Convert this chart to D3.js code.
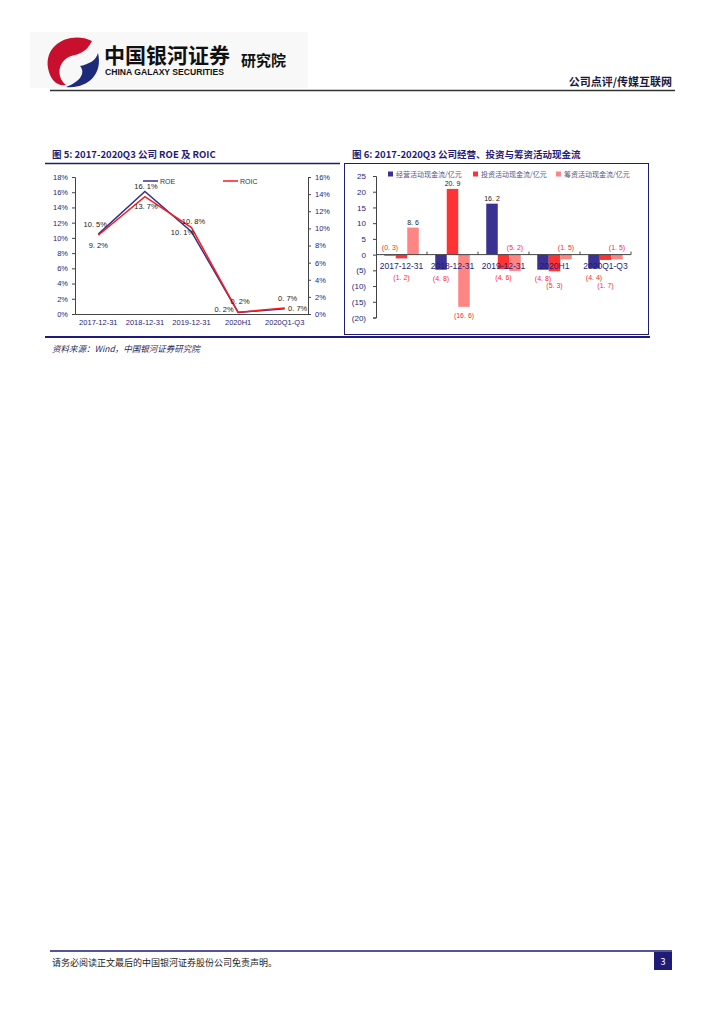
<!DOCTYPE html>
<html><head><meta charset="utf-8">
<script src="https://cdn.jsdelivr.net/npm/d3@7"></script>
<style>body{margin:0;background:#fff}svg{display:block}</style>
</head><body>
<script>
// ---------- data ----------
const roeCats = ["2017-12-31","2018-12-31","2019-12-31","2020H1","2020Q1-Q3"];
const roeVals = [10.5,16.1,10.8,0.2,0.7];
const roicVals = [9.2,13.7,10.1,0.2,0.7];
const roeLeftTicks = [0,2,4,6,8,10,12,14,16,18];
const roeRightTicks = [0,2,4,6,8,10,12,14,16];

const cfCats = ["2017-12-31","2018-12-31","2019-12-31","2020H1","2020Q1-Q3"];
const cfSeries = ["经营活动现金流/亿元","投资活动现金流/亿元","筹资活动现金流/亿元"];
const cfOperating = [-0.3,-4.8,16.2,-4.8,-4.4];
const cfInvesting = [-1.2,20.9,-4.6,-5.3,-1.7];
const cfFinancing = [8.6,-16.6,-5.2,-1.5,-1.5];
const cfTicks = [25,20,15,10,5,0,-5,-10,-15,-20];
// label side per series per category: "out" = beyond bar end, "top" = above zero line, "low" = staggered lower
const cfLabelSide = [
  ["top","out","out","out","out"],
  ["out","out","out","low","low"],
  ["out","out","top","top","top"]
];

// ---------- page ----------
const navy = "#1f1c78";
const svg = d3.select("body").append("svg").attr("width",724).attr("height",1024)
  .style("font-family","'Noto Sans CJK SC','Noto Sans',sans-serif");

// header
svg.append("rect").attr("x",30).attr("y",32).attr("width",278).attr("height",56).attr("fill","#f8f8f8");
svg.append("path").attr("d","M92 41 C72 31 44 43 48 68 C50 80 58 87 66 85 C55 76 58 58 75 55 C83 53 88 49 92 41 Z").attr("fill","#c8102e");
svg.append("path").attr("d","M98 53 C103 74 88 89 66 87 C80 82 86 73 80 66 C90 64 96 60 98 53 Z").attr("fill","#1d2a7a");
svg.append("text").attr("x",104).attr("y",63).attr("font-size",21).attr("font-weight","bold").attr("fill","#111").text("中国银河证券");
svg.append("text").attr("x",105).attr("y",75).attr("font-size",8.6).attr("font-weight","bold").attr("fill","#111")
  .style("font-family","'Liberation Sans',Arial,sans-serif").text("CHINA GALAXY SECURITIES");
svg.append("text").attr("x",241).attr("y",66).attr("font-size",15).attr("font-weight","bold").attr("fill","#111").text("研究院");
svg.append("text").attr("x",672).attr("y",86).attr("text-anchor","end").attr("font-size",11).attr("font-weight","bold").attr("fill","#1a1a40").text("公司点评/传媒互联网");
svg.append("line").attr("x1",50).attr("x2",675).attr("y1",90.5).attr("y2",90.5).attr("stroke","#333").attr("stroke-width",1.3);

// titles
svg.append("text").attr("x",52).attr("y",158).attr("font-size",9.5).attr("font-weight","bold").attr("fill",navy).text("图 5: 2017-2020Q3 公司 ROE 及 ROIC");
svg.append("text").attr("x",352).attr("y",158).attr("font-size",9.5).attr("font-weight","bold").attr("fill",navy).text("图 6: 2017-2020Q3 公司经营、投资与筹资活动现金流");

// frames
svg.append("line").attr("x1",45).attr("x2",340).attr("y1",163.5).attr("y2",163.5).attr("stroke",navy).attr("stroke-width",1.6);
svg.append("line").attr("x1",45).attr("x2",340).attr("y1",337).attr("y2",337).attr("stroke",navy).attr("stroke-width",2.2);
svg.append("rect").attr("x",344.5).attr("y",163.5).attr("width",304).attr("height",171).attr("fill","none").attr("stroke",navy).attr("stroke-width",1);
svg.append("line").attr("x1",340).attr("x2",650).attr("y1",337).attr("y2",337).attr("stroke",navy).attr("stroke-width",2.2);

// source & footer
svg.append("text").attr("x",52).attr("y",352).attr("font-size",8.5).attr("font-style","italic").attr("fill","#2a2a5a").text("资料来源：Wind，中国银河证券研究院");
svg.append("line").attr("x1",50).attr("x2",672).attr("y1",951).attr("y2",951).attr("stroke",navy).attr("stroke-width",1.5);
svg.append("text").attr("x",52).attr("y",966).attr("font-size",9).attr("fill","#222").text("请务必阅读正文最后的中国银河证券股份公司免责声明。");
svg.append("rect").attr("x",654).attr("y",952).attr("width",18).attr("height",18).attr("fill",navy);
svg.append("text").attr("x",663).attr("y",965).attr("text-anchor","middle").attr("font-size",9).attr("fill","#fff").text("3");

// ---------- chart 1: ROE / ROIC ----------
{
  const g = svg.append("g");
  const x = d3.scalePoint().domain(roeCats).range([98.3,284.7]);
  const xb = d3.scaleBand().domain(roeCats).range([75,308]);
  const yL = d3.scaleLinear().domain([0,18]).range([314,177]);
  const yR = d3.scaleLinear().domain([0,16]).range([314,177]);

  const axL = g.append("g").attr("transform","translate(75,0)")
    .call(d3.axisLeft(yL).tickValues(roeLeftTicks).tickSize(3).tickFormat(d=>d+"%"));
  const axR = g.append("g").attr("transform","translate(308,0)")
    .call(d3.axisRight(yR).tickValues(roeRightTicks).tickSize(3).tickFormat(d=>d+"%"));
  const axB = g.append("g").attr("transform","translate(0,314)")
    .call(d3.axisBottom(xb).tickSize(0).tickPadding(6));
  [axL,axR,axB].forEach(a=>{
    a.select(".domain").attr("stroke","#444");
    a.selectAll(".tick line").attr("stroke","#444");
    a.selectAll("text").attr("font-size",7.5).attr("fill",navy).style("font-family","'Liberation Sans',Arial,sans-serif");
  });
  axL.selectAll("text").attr("dx",-1);
  axR.selectAll("text").attr("dx",1);

  const lineL = d3.line().x((d,i)=>x(roeCats[i])).y(d=>yL(d));
  const lineR = d3.line().x((d,i)=>x(roeCats[i])).y(d=>yR(d));
  g.append("path").attr("d",lineL(roeVals)).attr("fill","none").attr("stroke","#35318f").attr("stroke-width",1.5);
  g.append("path").attr("d",lineR(roicVals)).attr("fill","none").attr("stroke","#ff1a1a").attr("stroke-width",1.5);

  // legend
  g.append("line").attr("x1",143).attr("x2",158).attr("y1",181).attr("y2",181).attr("stroke","#35318f").attr("stroke-width",1.5);
  g.append("text").attr("x",160).attr("y",183.5).attr("font-size",7).attr("fill","#333").style("font-family","'Liberation Sans',Arial,sans-serif").text("ROE");
  g.append("line").attr("x1",223).attr("x2",238).attr("y1",181).attr("y2",181).attr("stroke","#ff1a1a").attr("stroke-width",1.5);
  g.append("text").attr("x",240).attr("y",183.5).attr("font-size",7).attr("fill","#333").style("font-family","'Liberation Sans',Arial,sans-serif").text("ROIC");

  const fmt = v => v.toFixed(1).replace(".",". ")+"%";
  const roeOff = [[-3,-7],[1,-2],[2,-8],[2,-8],[3,-8]];
  const roicOff = [[0,13],[1,12],[-9,7],[-14,0],[13,3]];
  roeVals.forEach((v,i)=>{
    g.append("text").attr("x",x(roeCats[i])+roeOff[i][0]).attr("y",yL(v)+roeOff[i][1]).attr("text-anchor","middle")
      .attr("font-size",7.5).attr("fill","#222").style("font-family","'Liberation Sans',Arial,sans-serif").text(fmt(v));
  });
  roicVals.forEach((v,i)=>{
    g.append("text").attr("x",x(roeCats[i])+roicOff[i][0]).attr("y",yR(v)+roicOff[i][1]).attr("text-anchor","middle")
      .attr("font-size",7.5).attr("fill","#222").style("font-family","'Liberation Sans',Arial,sans-serif").text(fmt(v));
  });
}

// ---------- chart 2: cash flows ----------
{
  const g = svg.append("g");
  const x = d3.scaleBand().domain(cfCats).range([376,631]);
  const xs = d3.scaleBand().domain(cfSeries).range([x.bandwidth()/2-17.25, x.bandwidth()/2+17.25]);
  const y = d3.scaleLinear().domain([-20,25]).range([317.5,176]);
  const colors = ["#3b3192","#ff3333","#ff8484"];
  const data = [cfOperating,cfInvesting,cfFinancing];

  const axL = g.append("g").attr("transform","translate(376,0)")
    .call(d3.axisLeft(y).tickValues(cfTicks).tickSize(3).tickPadding(7).tickFormat(d=>d<0?"("+(-d)+")":d));
  axL.select(".domain").attr("stroke","#444");
  axL.selectAll(".tick line").attr("stroke","#444");
  axL.selectAll("text").attr("font-size",8).attr("fill",navy).style("font-family","'Liberation Sans',Arial,sans-serif");

  data.forEach((vals,s)=>{
    g.selectAll(null).data(vals).enter().append("rect")
      .attr("x",(d,i)=>x(cfCats[i])+xs(cfSeries[s]))
      .attr("width",xs.bandwidth())
      .attr("y",d=>y(Math.max(0,d)))
      .attr("height",d=>Math.abs(y(d)-y(0)))
      .attr("fill",colors[s]);
  });

  // zero axis with boundary ticks
  g.append("line").attr("x1",376).attr("x2",631).attr("y1",y(0)).attr("y2",y(0)).attr("stroke","#444");
  cfCats.forEach((c,i)=>{ if(i>0) g.append("line").attr("x1",x(c)).attr("x2",x(c)).attr("y1",y(0)-3).attr("y2",y(0)).attr("stroke","#444"); });
  g.append("line").attr("x1",631).attr("x2",631).attr("y1",y(0)-3).attr("y2",y(0)).attr("stroke","#444");

  // category labels
  cfCats.forEach(c=>{
    g.append("text").attr("x",x(c)+x.bandwidth()/2).attr("y",y(0)+14).attr("text-anchor","middle")
      .attr("font-size",8.5).attr("fill",navy).style("font-family","'Liberation Sans',Arial,sans-serif").text(c);
  });

  // data labels
  const fmt = v => v<0 ? "("+(-v).toFixed(1).replace(".",". ")+")" : v.toFixed(1).replace(".",". ");
  data.forEach((vals,s)=>{
    vals.forEach((v,i)=>{
      const cx = x(cfCats[i])+xs(cfSeries[s])+xs.bandwidth()/2;
      const side = cfLabelSide[s][i];
      let ty;
      if(side==="top") ty = y(0)-5;
      else if(v>=0) ty = y(v)-3;
      else if(side==="low") ty = Math.max(y(v)+11, y(0)+33);
      else ty = Math.max(y(v)+11, y(0)+25);
      g.append("text").attr("x",cx).attr("y",ty).attr("text-anchor","middle").attr("font-size",7)
        .attr("fill",v<0?"#ff2a2a":"#222").style("font-family","'Liberation Sans',Arial,sans-serif").text(fmt(v));
    });
  });

  // legend
  const lx = [388,473,556];
  cfSeries.forEach((s,i)=>{
    g.append("rect").attr("x",lx[i]).attr("y",171.5).attr("width",5).attr("height",5).attr("fill",colors[i]);
    g.append("text").attr("x",lx[i]+8).attr("y",177).attr("font-size",7).attr("fill","#55558a").text(s);
  });
}
</script>
</body></html>
